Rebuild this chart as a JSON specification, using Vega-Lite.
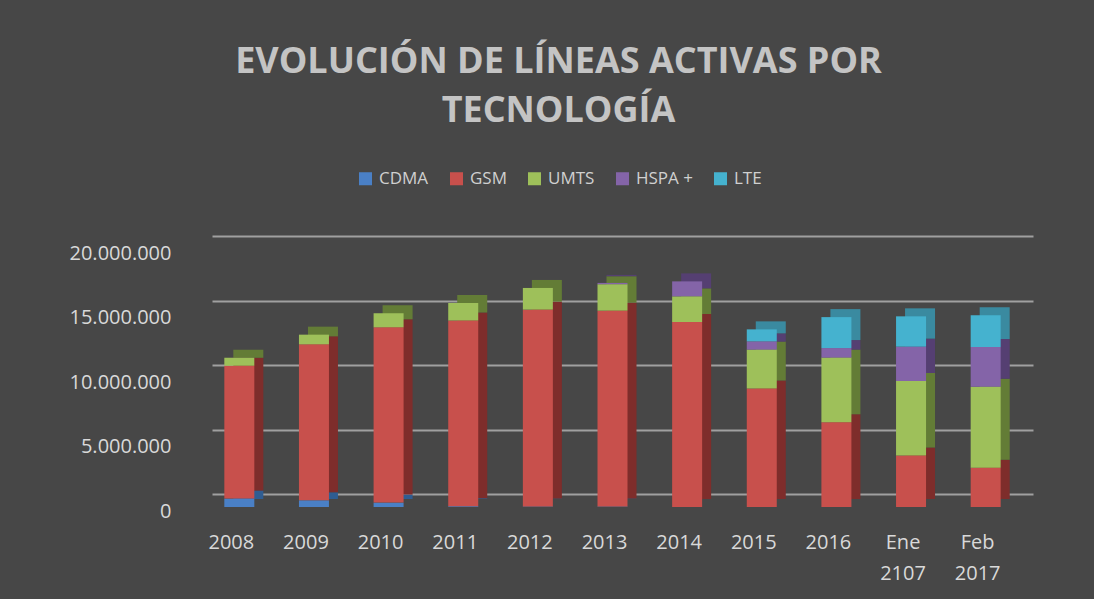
{
  "$schema": "https://vega.github.io/schema/vega-lite/v6.json",
  "autosize": {"type": "none"},
  "width": 821,
  "height": 258,
  "padding": {"left": 212, "top": 236, "right": 61, "bottom": 105},
  "background": "#474747",
  "title": {
    "text": ["EVOLUCIÓN DE LÍNEAS ACTIVAS POR", "TECNOLOGÍA"],
    "font": "Open Sans",
    "fontSize": 36,
    "fontWeight": "bold",
    "color": "#c4c4c4",
    "anchor": "middle",
    "frame": "group",
    "dx": -64,
    "lineHeight": 49,
    "offset": 40
  },
  "data": {
    "values": [
      {"periodo": "2008", "tecnologia": "CDMA", "lineas": 650000},
      {"periodo": "2008", "tecnologia": "GSM", "lineas": 10300000},
      {"periodo": "2008", "tecnologia": "UMTS", "lineas": 620000},
      {"periodo": "2008", "tecnologia": "HSPA +", "lineas": 0},
      {"periodo": "2008", "tecnologia": "LTE", "lineas": 0},
      {"periodo": "2009", "tecnologia": "CDMA", "lineas": 520000},
      {"periodo": "2009", "tecnologia": "GSM", "lineas": 12090000},
      {"periodo": "2009", "tecnologia": "UMTS", "lineas": 750000},
      {"periodo": "2009", "tecnologia": "HSPA +", "lineas": 0},
      {"periodo": "2009", "tecnologia": "LTE", "lineas": 0},
      {"periodo": "2010", "tecnologia": "CDMA", "lineas": 340000},
      {"periodo": "2010", "tecnologia": "GSM", "lineas": 13590000},
      {"periodo": "2010", "tecnologia": "UMTS", "lineas": 1090000},
      {"periodo": "2010", "tecnologia": "HSPA +", "lineas": 0},
      {"periodo": "2010", "tecnologia": "LTE", "lineas": 0},
      {"periodo": "2011", "tecnologia": "CDMA", "lineas": 50000},
      {"periodo": "2011", "tecnologia": "GSM", "lineas": 14400000},
      {"periodo": "2011", "tecnologia": "UMTS", "lineas": 1370000},
      {"periodo": "2011", "tecnologia": "HSPA +", "lineas": 0},
      {"periodo": "2011", "tecnologia": "LTE", "lineas": 0},
      {"periodo": "2012", "tecnologia": "CDMA", "lineas": 30000},
      {"periodo": "2012", "tecnologia": "GSM", "lineas": 15270000},
      {"periodo": "2012", "tecnologia": "UMTS", "lineas": 1680000},
      {"periodo": "2012", "tecnologia": "HSPA +", "lineas": 0},
      {"periodo": "2012", "tecnologia": "LTE", "lineas": 0},
      {"periodo": "2013", "tecnologia": "CDMA", "lineas": 30000},
      {"periodo": "2013", "tecnologia": "GSM", "lineas": 15190000},
      {"periodo": "2013", "tecnologia": "UMTS", "lineas": 2050000},
      {"periodo": "2013", "tecnologia": "HSPA +", "lineas": 100000},
      {"periodo": "2013", "tecnologia": "LTE", "lineas": 0},
      {"periodo": "2014", "tecnologia": "CDMA", "lineas": 0},
      {"periodo": "2014", "tecnologia": "GSM", "lineas": 14340000},
      {"periodo": "2014", "tecnologia": "UMTS", "lineas": 1990000},
      {"periodo": "2014", "tecnologia": "HSPA +", "lineas": 1160000},
      {"periodo": "2014", "tecnologia": "LTE", "lineas": 0},
      {"periodo": "2015", "tecnologia": "CDMA", "lineas": 0},
      {"periodo": "2015", "tecnologia": "GSM", "lineas": 9180000},
      {"periodo": "2015", "tecnologia": "UMTS", "lineas": 3020000},
      {"periodo": "2015", "tecnologia": "HSPA +", "lineas": 640000},
      {"periodo": "2015", "tecnologia": "LTE", "lineas": 930000},
      {"periodo": "2016", "tecnologia": "CDMA", "lineas": 0},
      {"periodo": "2016", "tecnologia": "GSM", "lineas": 6570000},
      {"periodo": "2016", "tecnologia": "UMTS", "lineas": 5010000},
      {"periodo": "2016", "tecnologia": "HSPA +", "lineas": 740000},
      {"periodo": "2016", "tecnologia": "LTE", "lineas": 2400000},
      {"periodo": "Ene 2107", "tecnologia": "CDMA", "lineas": 0},
      {"periodo": "Ene 2107", "tecnologia": "GSM", "lineas": 4000000},
      {"periodo": "Ene 2107", "tecnologia": "UMTS", "lineas": 5760000},
      {"periodo": "Ene 2107", "tecnologia": "HSPA +", "lineas": 2670000},
      {"periodo": "Ene 2107", "tecnologia": "LTE", "lineas": 2350000},
      {"periodo": "Feb 2017", "tecnologia": "CDMA", "lineas": 0},
      {"periodo": "Feb 2017", "tecnologia": "GSM", "lineas": 3050000},
      {"periodo": "Feb 2017", "tecnologia": "UMTS", "lineas": 6280000},
      {"periodo": "Feb 2017", "tecnologia": "HSPA +", "lineas": 3070000},
      {"periodo": "Feb 2017", "tecnologia": "LTE", "lineas": 2460000}
    ]
  },
  "transform": [
    {"calculate": "indexof(['CDMA', 'GSM', 'UMTS', 'HSPA +', 'LTE'], datum.tecnologia)", "as": "orden"}
  ],
  "encoding": {
    "x": {
      "field": "periodo",
      "type": "nominal",
      "sort": ["2008", "2009", "2010", "2011", "2012", "2013", "2014", "2015", "2016", "Ene 2107", "Feb 2017"],
      "scale": {"paddingInner": 0, "paddingOuter": 0},
      "axis": {
        "title": null,
        "domain": false,
        "ticks": false,
        "labelAngle": 0,
        "labelFont": "Open Sans",
        "labelFontSize": 20,
        "labelColor": "#d9d9d9",
        "labelLineHeight": 31,
        "labelOffset": -18,
        "labelPadding": 38,
        "labelExpr": "split(datum.label, ' ')"
      }
    },
    "y": {
      "field": "lineas",
      "type": "quantitative",
      "stack": "zero",
      "scale": {"domain": [0, 20000000], "nice": false},
      "axis": {
        "title": null,
        "domain": false,
        "ticks": false,
        "values": [0, 5000000, 10000000, 15000000, 20000000],
        "labelFont": "Open Sans",
        "labelFontSize": 20,
        "labelColor": "#d9d9d9",
        "labelPadding": 41,
        "labelOffset": 17,
        "labelExpr": "replace(format(datum.value, ','), regexp(',', 'g'), '.')",
        "grid": true,
        "gridColor": "#a0a0a0",
        "gridWidth": 2
      }
    },
    "order": {"field": "orden", "type": "quantitative", "sort": "ascending"}
  },
  "layer": [
    {
      "mark": {"type": "bar", "size": 30, "xOffset": -1, "yOffset": 5},
      "encoding": {
        "color": {
          "field": "tecnologia",
          "type": "nominal",
          "scale": {
            "domain": ["CDMA", "GSM", "UMTS", "HSPA +", "LTE"],
            "range": ["#2f5d92", "#7e2d2b", "#637c36", "#553f72", "#3a8aa0"]
          },
          "legend": null
        }
      }
    },
    {
      "mark": {"type": "bar", "size": 30, "xOffset": -10, "yOffset": 13},
      "encoding": {
        "color": {
          "field": "tecnologia",
          "type": "nominal",
          "scale": {
            "domain": ["CDMA", "GSM", "UMTS", "HSPA +", "LTE"],
            "range": ["#4a80c6", "#c8504c", "#9ec05a", "#8464a8", "#45b2cf"]
          },
          "legend": {
            "title": null,
            "orient": "none",
            "legendX": 145,
            "legendY": -66,
            "direction": "horizontal",
            "symbolType": "square",
            "symbolSize": 169,
            "symbolStrokeWidth": 0,
            "labelFont": "Open Sans",
            "labelFontSize": 17,
            "labelColor": "#d0d0d0",
            "labelOffset": 5,
            "columnPadding": 19,
            "padding": 0
          }
        }
      }
    }
  ],
  "resolve": {"scale": {"color": "independent"}},
  "config": {
    "view": {"stroke": null}
  }
}
